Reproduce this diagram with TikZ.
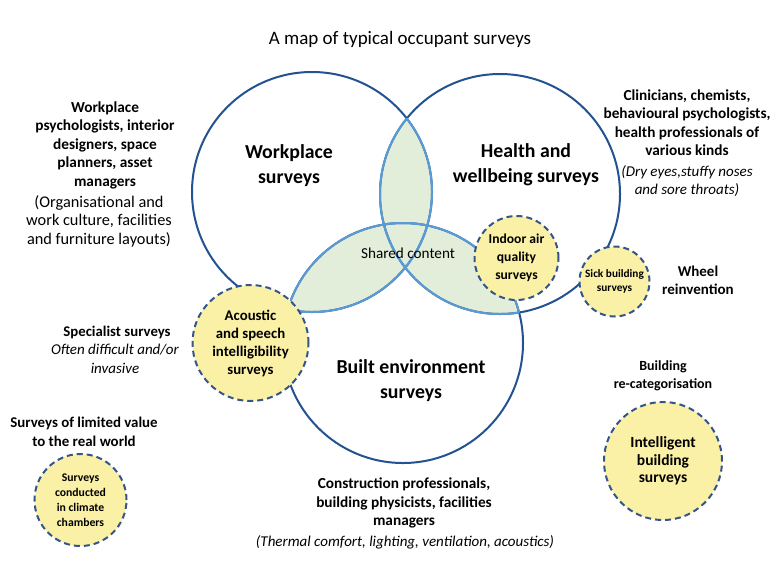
\documentclass[tikz,border=0pt]{standalone}
\usepackage{fontspec}
\setmainfont{Carlito}
\usepackage{tikz}
\usetikzlibrary{shapes.geometric, positioning, calc}
\definecolor{ringblue}{HTML}{22528F}
\definecolor{innerblue}{HTML}{5B9BD5}
\definecolor{lensgreen}{HTML}{E2EEDA}
\definecolor{surveyyellow}{HTML}{FAF0A6}
\definecolor{dashblue}{HTML}{34558C}

\tikzset{
  ring/.style={draw=ringblue, line width=2pt},
  innerline/.style={draw=innerblue, line width=2pt},
  yellowcirc/.style={circle, fill=surveyyellow, draw=dashblue, line width=2pt, dash pattern=on 6pt off 4pt, inner sep=0pt, align=center, font=\fontsize{14.8}{18}\selectfont\bfseries},
  biglabel/.style={align=center, font=\fontsize{19.8}{25}\selectfont\bfseries},
  whobox/.style={align=center, font=\fontsize{15.3}{18.5}\selectfont\bfseries},
  notebox/.style={align=center, font=\fontsize{15}{18.5}\selectfont\itshape},
}

\begin{document}
\begin{tikzpicture}[x=1pt, y=-1pt]
  \useasboundingbox (0,0) rectangle (781,587);
  \def\rr{120pt}

  % Title
  \node[font=\fontsize{19}{23}\selectfont] (title) at (400, 39) {A map of typical occupant surveys};

  % Centres of the three survey circles
  \coordinate (cw) at (312, 192);
  \coordinate (ch) at (500, 194);
  \coordinate (cb) at (403, 343);

  % Shared (overlapping) regions
  \foreach \a/\b in {cw/ch, cw/cb, ch/cb} {
    \begin{scope}
      \clip (\a) circle (\rr);
      \fill[lensgreen] (\b) circle (\rr);
    \end{scope}
  }

  % Outer rings
  \draw[ring] (cw) circle (\rr) (ch) circle (\rr) (cb) circle (\rr);

  % Inner arcs in lighter blue
  \foreach \a/\b/\c in {cw/ch/cb, ch/cw/cb, cb/cw/ch} {
    \begin{scope}
      \clip (\a) circle (\rr);
      \draw[innerline] (\b) circle (\rr) (\c) circle (\rr);
    \end{scope}
  }

  % Labels inside the rings
  \node[biglabel] (worklabel) at (289, 166) {Workplace\\surveys};
  \node[biglabel] (healthlabel) at (526, 165) {Health and\\wellbeing surveys};
  \node[biglabel] (builtlabel) at (411, 381) {Built environment\\surveys};
  \node[font=\fontsize{15.2}{18}\selectfont] (shared) at (408, 253) {Shared content};

  % Specific (yellow) surveys
  \node[yellowcirc, minimum size=84pt, font=\fontsize{13.6}{18}\selectfont\bfseries] (indoor) at (516.5, 258) {Indoor air\\quality\\surveys};
  \node[yellowcirc, minimum size=116pt] (acoustic) at (250.5, 343) {Acoustic\\and speech\\intelligibility\\surveys};
  \node[yellowcirc, minimum size=70pt, font=\fontsize{11.3}{14}\selectfont\bfseries] (sick) at (614.5, 281.5) {Sick building\\surveys};
  \node[yellowcirc, minimum size=118pt, font=\fontsize{15.5}{17.5}\selectfont\bfseries] (intelligent) at (663, 461) {Intelligent\\building\\surveys};
  \node[yellowcirc, minimum size=92pt, font=\fontsize{11.7}{15}\selectfont\bfseries] (climate) at (80.5, 500) {Surveys\\conducted\\in climate\\chambers};

  % Who uses them, and what they cover
  \node[whobox] (workpeople) at (105, 145) {Workplace\\psychologists, interior\\designers, space\\planners, asset\\managers};
  \node[align=center, font=\fontsize{16.3}{18.5}\selectfont] (workscope) at (99, 221) {(Organisational and\\work culture, facilities\\and furniture layouts)};
  \node[whobox] (healthpeople) at (687, 122.5) {Clinicians, chemists,\\behavioural psychologists,\\health professionals of\\various kinds};
  \node[notebox] (healthscope) at (687, 181) {(Dry eyes,stuffy noses\\and sore throats)};
  \node[whobox] (builtpeople) at (404, 503) {Construction professionals,\\building physicists, facilities\\managers};
  \node[notebox] (builtscope) at (405, 542) {(Thermal comfort, lighting, ventilation, acoustics)};

  % Side remarks
  \node[whobox, font=\fontsize{15}{18}\selectfont\bfseries] (wheel) at (698, 280) {Wheel\\reinvention};
  \node[whobox, font=\fontsize{14.8}{18}\selectfont\bfseries] (specialist) at (117, 332) {Specialist surveys};
  \node[notebox] (specialistnote) at (115, 359) {Often difficult and/or\\invasive};
  \node[whobox, font=\fontsize{14.9}{18.5}\selectfont\bfseries] (limited) at (84, 432) {Surveys of limited value\\to the real world};
  \node[whobox, font=\fontsize{14}{17.5}\selectfont\bfseries] (recat) at (663, 376) {Building\\re-categorisation};
\end{tikzpicture}
\end{document}
